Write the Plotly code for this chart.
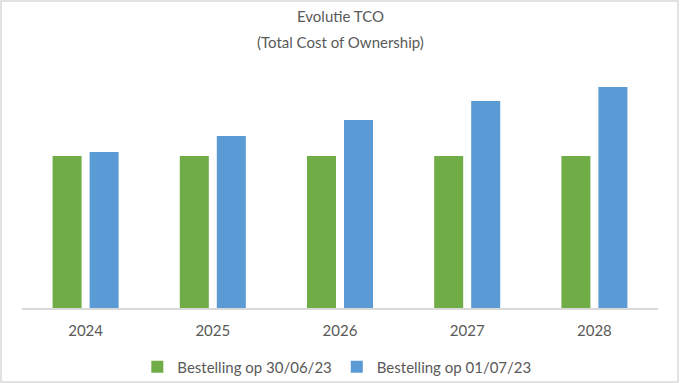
import plotly.graph_objects as go

years = ["2024", "2025", "2026", "2027", "2028"]
series_a_name = "Bestelling op 30/06/23"
series_b_name = "Bestelling op 01/07/23"
series_a = [100, 100, 100, 100, 100]
series_b = [102.6, 113.2, 123.7, 136.2, 145.4]

green = "#70AD47"
blue = "#5B9BD5"
text_col = "#595959"
font_family = "Lato, Carlito, 'Open Sans', sans-serif"

W, H = 680, 383
ML, MR, MT, MB = 22, 22, 60, 75
PW, PH = W - ML - MR, H - MT - MB


def px_x(x):
    return (x - ML) / PW


def px_y(y):
    return (H - MB - y) / PH


fig = go.Figure()
fig.add_trace(go.Bar(x=years, y=series_a, name=series_a_name, marker_color=green,
                     marker_line_width=0))
fig.add_trace(go.Bar(x=years, y=series_b, name=series_b_name, marker_color=blue,
                     marker_line_width=0))

fig.update_layout(
    width=W, height=H,
    margin=dict(l=ML, r=MR, t=MT, b=MB, autoexpand=False),
    paper_bgcolor="white", plot_bgcolor="white",
    barmode="group", bargap=0.418, bargroupgap=0.216,
    font=dict(family=font_family, color=text_col, size=15),
    showlegend=True,
    legend=dict(orientation="h", x=0.495, xanchor="center", y=px_y(367), yanchor="middle",
                font=dict(size=15, color=text_col), itemwidth=30,
                traceorder="normal", bgcolor="rgba(0,0,0,0)"),
    xaxis=dict(showgrid=False, showline=True, linecolor="#d9d9d9", linewidth=1.5,
               ticks="", tickfont=dict(size=15, color=text_col), fixedrange=True,
               automargin=False, ticklabelstandoff=8),
    yaxis=dict(visible=False, range=[0, 163.2], showgrid=False, zeroline=False,
               automargin=False, fixedrange=True),
    annotations=[
        dict(text="Evolutie TCO", x=0.5, y=px_y(16), xref="paper", yref="paper",
             yanchor="middle", showarrow=False, font=dict(size=15, color=text_col)),
        dict(text="(Total Cost of Ownership)", x=0.5, y=px_y(42), xref="paper", yref="paper",
             yanchor="middle", showarrow=False, font=dict(size=15, color=text_col)),
    ],
    shapes=[dict(type="rect", xref="paper", yref="paper",
                 x0=px_x(1), x1=px_x(678), y0=px_y(382), y1=px_y(1),
                 line=dict(color="#d9d9d9", width=1.5))],
)

fig.write_html("out.html", config={"displayModeBar": False},
               post_script="document.body.style.margin='0';")
